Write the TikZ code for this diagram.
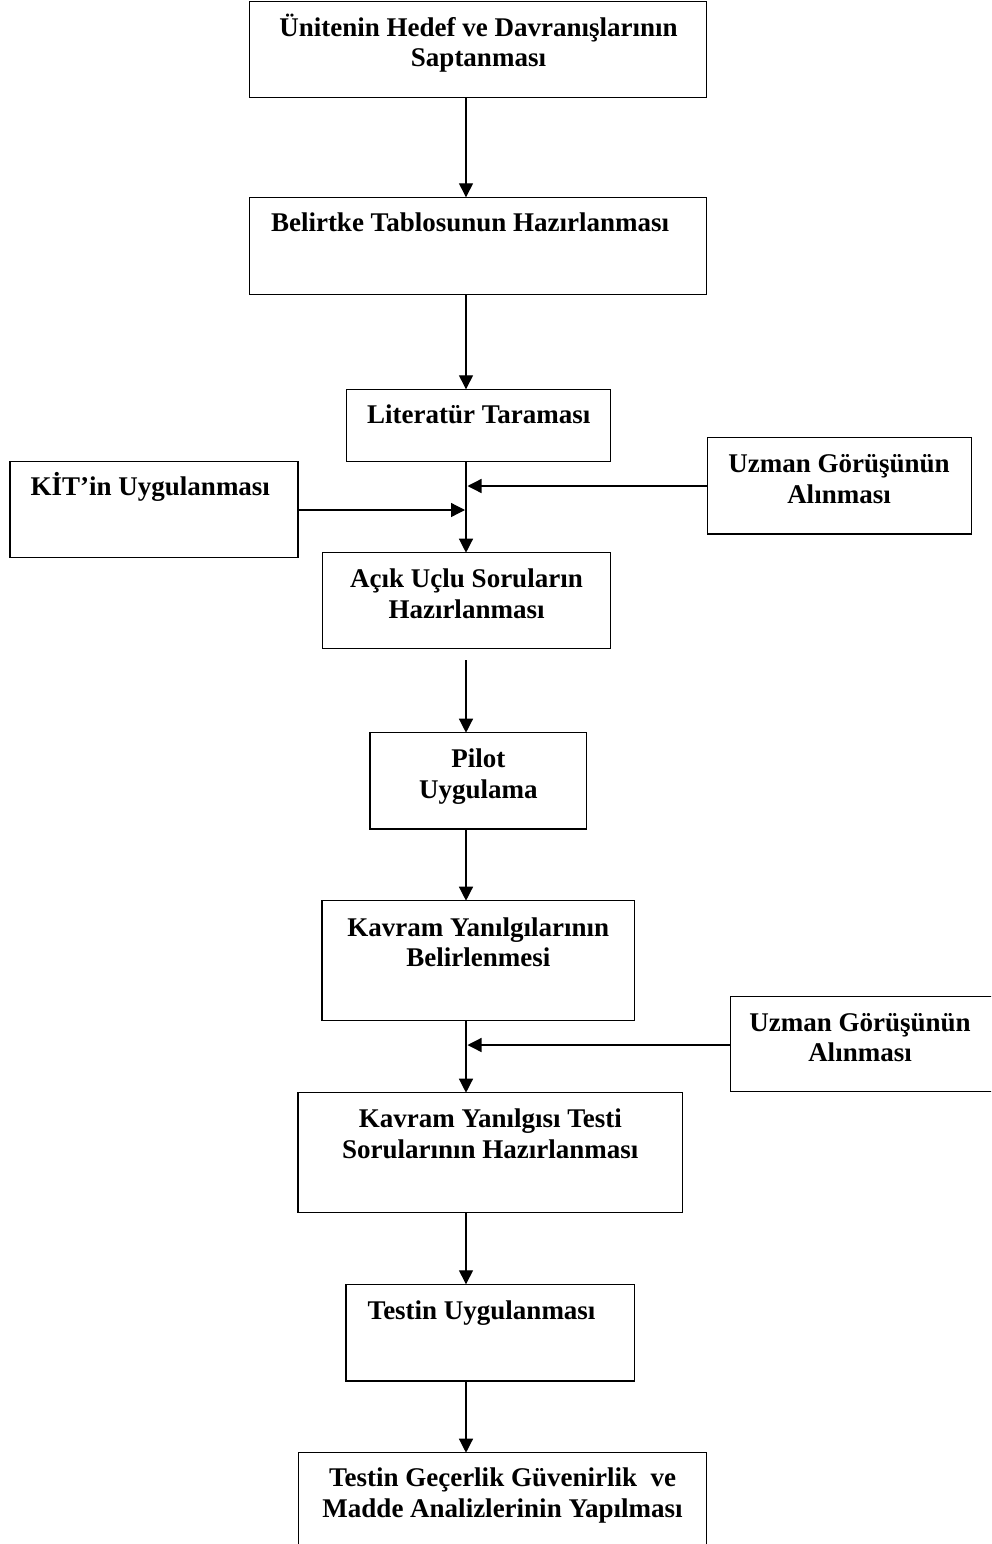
\documentclass[tikz,border=0pt]{standalone}
\usepackage{fontspec}
\setmainfont{Liberation Serif}
\usetikzlibrary{fit,arrows.meta}

\tikzset{
  box/.style={draw=black, line width=1.3pt, inner sep=0pt, outer sep=0pt},
  lbl/.style={font=\fontsize{27}{30.5}\selectfont\bfseries, align=center, inner sep=0pt, outer sep=0pt},
  arr/.style={draw=black, line width=1.3pt, -{Triangle[length=14pt,width=14pt]}}
}

\begin{document}
\begin{tikzpicture}[x=1pt,y=-1pt]
  \useasboundingbox (0,0) rectangle (991,1544);
  \fill[white] (0,0) rectangle (991,1544);
  \clip (0,0) rectangle (991,1544);

  % main column of steps
  \node[box, fit={(249.3,1.7) (706.7,97.3)}] (b1) {};
  \node[box, fit={(249.3,197.3) (706.7,294.3)}] (b2) {};
  \node[box, fit={(346.8,389.3) (610.8,461.7)}] (b3) {};
  \node[box, fit={(322.8,552.7) (610.8,648.3)}] (b5) {};
  \node[box, fit={(370,732.7) (586.7,829)}] (b6) {};
  \node[box, fit={(322,900.7) (634.3,1020.7)}] (b7) {};
  \node[box, fit={(298,1092.7) (682.7,1212.7)}] (b8) {};
  \node[box, fit={(346,1284.3) (634.3,1381)}] (b9) {};
  \node[box, fit={(298.3,1452.7) (706.7,1548)}] (b10) {};

  % side inputs
  \node[box, fit={(10,461.7) (298,557.5)}] (kit) {};
  \node[box, fit={(707.6,437.7) (971.5,534)}] (uz1) {};
  \node[box, fit={(730.5,996.7) (995,1091.7)}] (uz2) {};

  % texts (base anchor = baseline of the last line)
  \node[lbl, anchor=base] (t1) at (478.5,66.7) {Ünitenin Hedef ve Davranışlarının\\Saptanması};
  \node[lbl, anchor=base west] (t2) at (271,231.7) {Belirtke Tablosunun Hazırlanması};
  \node[lbl, anchor=base] (t3) at (478.8,423.3) {Literatür Taraması};
  \node[lbl, anchor=base west] (tkit) at (30.7,495.7) {KİT’in Uygulanması};
  \node[lbl, anchor=base] (tuz1) at (839,503.3) {Uzman Görüşünün\\Alınması};
  \node[lbl, anchor=base] (t5) at (466.5,618.3) {Açık Uçlu Soruların\\Hazırlanması};
  \node[lbl, anchor=base] (t6) at (478.3,798.3) {Pilot\\Uygulama};
  \node[lbl, anchor=base] (t7) at (478.3,966.7) {Kavram Yanılgılarının\\Belirlenmesi};
  \node[lbl, anchor=base] (tuz2) at (860,1061.7) {Uzman Görüşünün\\Alınması};
  \node[lbl, anchor=base] (t8) at (490.3,1158.3) {Kavram Yanılgısı Testi\\Sorularının Hazırlanması};
  \node[lbl, anchor=base west] (t9) at (367.7,1319.3) {Testin Uygulanması};
  \node[lbl, anchor=base] (t10) at (502.5,1517.3) {Testin Geçerlik Güvenirlik\ \ ve\\Madde Analizlerinin Yapılması};

  % flow axis and junction points
  \coordinate (ax) at (466,0);
  \coordinate (j1) at (467.5,486);
  \coordinate (j2) at (465,510);
  \coordinate (j3) at (467.5,1045);

  % vertical flow
  \draw[arr] (b1.south -| ax) -- (b2.north -| ax);
  \draw[arr] (b2.south -| ax) -- (b3.north -| ax);
  \draw[arr] (b3.south -| ax) -- (b5.north -| ax);
  \draw[arr, shorten <=11.7pt] (b5.south -| ax) -- (b6.north -| ax);
  \draw[arr] (b6.south -| ax) -- (b7.north -| ax);
  \draw[arr] (b7.south -| ax) -- (b8.north -| ax);
  \draw[arr] (b8.south -| ax) -- (b9.north -| ax);
  \draw[arr] (b9.south -| ax) -- (b10.north -| ax);

  % side arrows into the flow
  \draw[arr] (uz1.west |- j1) -- (j1);
  \draw[arr] (kit.east |- j2) -- (j2);
  \draw[arr] (uz2.west |- j3) -- (j3);
\end{tikzpicture}
\end{document}
